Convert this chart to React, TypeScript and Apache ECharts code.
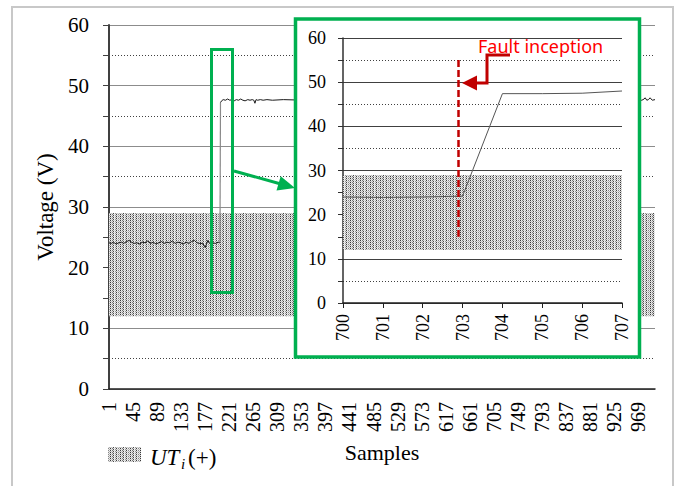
import React, { useEffect, useRef } from "react";
import * as echarts from "echarts";

// ---------- data ----------
const sampleCount = 1000;
const sampleLabels = Array.from({ length: sampleCount }, (_, i) => String(i + 1));

const lowSamples = [1, 5, 9, 14, 19, 24, 28, 33, 38, 42, 47, 52, 57, 62, 67, 72, 77, 82, 87, 92, 97, 102, 107, 112, 117, 122, 127, 132, 137, 142, 147, 152, 157, 162, 167, 172, 175, 177, 179, 182, 185, 190, 196, 201, 204];
const lowVolts = [24.1, 24.0, 24.2, 23.9, 24.1, 24.2, 24.0, 24.3, 24.5, 24.2, 24.0, 24.1, 23.9, 24.2, 24.1, 24.4, 24.0, 24.2, 23.9, 24.1, 24.3, 24.0, 24.2, 24.1, 24.4, 24.0, 24.2, 24.1, 23.9, 24.2, 24.0, 24.3, 24.5, 24.1, 24.0, 24.0, 23.7, 23.3, 23.8, 24.5, 24.0, 24.1, 24.0, 24.2, 24.1];

const highSamples = [205, 207, 210, 214, 218, 222, 226, 230, 234, 238, 242, 246, 250, 255, 259, 263, 266, 268, 270, 273, 278, 283, 290, 300, 320, 360, 420, 500, 600, 700, 705, 800, 900, 960, 976, 980, 982, 985, 988, 991, 995, 1000];
const highVolts = [47.2, 47.5, 47.7, 47.6, 47.8, 47.6, 47.7, 47.5, 47.7, 47.6, 47.8, 47.6, 47.5, 47.7, 47.6, 47.7, 47.6, 47.1, 47.7, 47.6, 47.7, 47.6, 47.7, 47.6, 47.7, 47.6, 47.7, 47.6, 47.5, 47.6, 47.7, 47.6, 47.7, 47.6, 47.6, 47.8, 48.0, 47.6, 47.7, 48.0, 47.6, 47.7];

const insetSamples = [700, 701, 702, 703, 704, 705, 706, 707];
const insetVolts = [24.0, 23.9, 24.0, 24.2, 47.4, 47.4, 47.5, 48.0];

const bandLow = 12;
const bandHigh = 29;

const faultSample = 702.88;
const faultTop = 55;
const faultBottom = 15;

const yMin = 0;
const yMax = 60;
const yStep = 10;

const serif = "'Liberation Serif', 'Times New Roman', serif";

function makePattern(): HTMLCanvasElement {
  const c = document.createElement("canvas");
  const w = 10;
  const h = 4;
  c.width = w;
  c.height = h;
  const ctx = c.getContext("2d")!;
  const cols = [0x38, 0xc0, 0x78, 0x48, 0xd8, 0x98, 0x40, 0xc8, 0x88, 0xb0];
  for (let x = 0; x < w; x++) {
    for (let y = 0; y < h; y++) {
      let v = cols[x];
      if ((x + y) % 2 === 1) v = Math.round(255 - (255 - v) * 0.2);
      ctx.fillStyle = `rgb(${v},${v},${v})`;
      ctx.fillRect(x, y, 1, 1);
    }
  }
  return c;
}

export default function App() {
  const ref = useRef<HTMLDivElement>(null);
  useEffect(() => {
    if (!ref.current) return;
    const chart = echarts.init(ref.current, null, { renderer: "svg" });
    const pat = makePattern();
    const patternColor: any = { image: pat, repeat: "repeat" };

    const lowData = lowSamples.map((s, i) => [s - 1, lowVolts[i]]);
    const highData = highSamples.map((s, i) => [s - 1, highVolts[i]]);
    const jumpData = [lowData[lowData.length - 1], highData[0]];
    const insetData = insetSamples.map((s, i) => [s, insetVolts[i]]);

    const green = "#00B050";
    const darkRed = "#C00000";

    chart.setOption({
      animation: false,
      grid: [
        { left: 109, top: 25, width: 546, height: 364 },
        { left: 343, top: 38, width: 279, height: 265 },
      ],
      xAxis: [
        {
          gridIndex: 0,
          type: "category",
          data: sampleLabels,
          boundaryGap: false,
          axisLine: { lineStyle: { color: "#202020", width: 1.5 } },
          axisTick: { show: false },
          splitLine: { show: false },
          axisLabel: {
            interval: 43,
            rotate: 90,
            margin: 13,
            fontSize: 20,
            fontFamily: serif,
            color: "#000",
          },
          name: "Samples",
          nameLocation: "middle",
          nameGap: 52,
          nameTextStyle: { fontSize: 22, fontFamily: serif, color: "#000" },
        },
        {
          gridIndex: 1,
          type: "value",
          min: insetSamples[0],
          max: insetSamples[insetSamples.length - 1],
          interval: 1,
          z: 20,
          axisLine: { lineStyle: { color: "#202020", width: 1.5 } },
          axisTick: { show: true, length: 5, lineStyle: { color: "#202020" } },
          splitLine: { show: false },
          axisLabel: {
            rotate: 90,
            margin: 11,
            fontSize: 18,
            fontFamily: serif,
            color: "#000",
          },
        },
      ],
      yAxis: [
        {
          gridIndex: 0,
          type: "value",
          min: yMin,
          max: yMax,
          interval: yStep,
          axisLine: { show: true, lineStyle: { color: "#404040", width: 2 } },
          axisTick: { show: true, length: 6, lineStyle: { color: "#404040" } },
          minorTick: { show: true, splitNumber: 2, length: 6, lineStyle: { color: "#404040" } },
          splitLine: { show: true, lineStyle: { color: "#8c8c8c", width: 1 } },
          minorSplitLine: { show: true, lineStyle: { color: "#404040", type: [1, 2], width: 1 } },
          axisLabel: { margin: 20, fontSize: 21, fontFamily: serif, color: "#000" },
          name: "Voltage (V)",
          nameLocation: "middle",
          nameGap: 50,
          nameTextStyle: { fontSize: 23, fontFamily: serif, color: "#000" },
        },
        {
          gridIndex: 1,
          type: "value",
          min: yMin,
          max: yMax,
          interval: yStep,
          z: 20,
          axisLine: { show: true, lineStyle: { color: "#303030", width: 1.5 } },
          axisTick: { show: true, length: 5, lineStyle: { color: "#303030" } },
          minorTick: { show: true, splitNumber: 2, length: 5, lineStyle: { color: "#303030" } },
          splitLine: { show: true, lineStyle: { color: "#404040", width: 1 } },
          minorSplitLine: { show: true, lineStyle: { color: "#404040", type: [1, 2], width: 1 } },
          axisLabel: { margin: 17, fontSize: 18, fontFamily: serif, color: "#000" },
        },
      ],
      series: [
        {
          type: "line",
          xAxisIndex: 0,
          yAxisIndex: 0,
          data: lowData,
          symbol: "none",
          lineStyle: { width: 0, opacity: 0 },
          z: 1,
          silent: true,
          markArea: {
            silent: true,
            z: 1,
            itemStyle: { color: patternColor },
            data: [[{ yAxis: bandLow }, { yAxis: bandHigh }]],
          },
        },
        {
          type: "line",
          xAxisIndex: 0,
          yAxisIndex: 0,
          data: lowData,
          symbol: "none",
          lineStyle: { color: "#1a1a1a", width: 1 },
          z: 3,
        },
        {
          type: "line",
          xAxisIndex: 0,
          yAxisIndex: 0,
          data: jumpData,
          symbol: "none",
          lineStyle: { color: "#8a8a8a", width: 1.2 },
          z: 3,
        },
        {
          type: "line",
          xAxisIndex: 0,
          yAxisIndex: 0,
          data: highData,
          symbol: "none",
          lineStyle: { color: "#1a1a1a", width: 1 },
          z: 3,
        },
        {
          type: "line",
          xAxisIndex: 1,
          yAxisIndex: 1,
          data: insetData,
          symbol: "none",
          lineStyle: { width: 0, opacity: 0 },
          z: 22,
          silent: true,
          markArea: {
            silent: true,
            z: 22,
            itemStyle: { color: patternColor },
            data: [[{ yAxis: bandLow }, { yAxis: bandHigh }]],
          },
        },
        {
          type: "line",
          xAxisIndex: 1,
          yAxisIndex: 1,
          data: insetData,
          symbol: "none",
          lineStyle: { color: "#555", width: 1 },
          z: 23,
          markLine: {
            silent: true,
            z: 30,
            symbol: "none",
            label: { show: false },
            lineStyle: { color: darkRed, width: 2.5, type: [7, 3] },
            data: [[{ coord: [faultSample, faultTop] }, { coord: [faultSample, faultBottom] }]],
          },
        },
      ],
      graphic: {
        elements: [
          {
            type: "rect",
            z: 0,
            silent: true,
            shape: { x: 12, y: 7, width: 661, height: 495 },
            style: { fill: "none", stroke: "#c8c8c8", lineWidth: 2 },
          },
          {
            type: "rect",
            z: 5,
            silent: true,
            shape: { x: 211.5, y: 49.5, width: 21, height: 243 },
            style: { fill: "none", stroke: green, lineWidth: 3 },
          },
          {
            type: "line",
            z: 5,
            silent: true,
            shape: { x1: 234, y1: 171, x2: 280, y2: 183.8 },
            style: { stroke: green, lineWidth: 3 },
          },
          {
            type: "polygon",
            z: 5,
            silent: true,
            shape: { points: [[295, 188], [276.5, 190.5], [280.7, 176.3]] },
            style: { fill: green },
          },
          {
            type: "rect",
            z: 10,
            silent: true,
            shape: { x: 295.5, y: 19, width: 344, height: 338 },
            style: { fill: "#fff", stroke: green, lineWidth: 3.5 },
          },
          {
            type: "polyline",
            z: 30,
            silent: true,
            shape: { points: [[510, 55], [487, 55], [487, 83], [474, 83]] },
            style: { stroke: darkRed, lineWidth: 3, fill: "none" },
          },
          {
            type: "polygon",
            z: 30,
            silent: true,
            shape: { points: [[462, 83], [477, 75.5], [477, 90.5]] },
            style: { fill: darkRed },
          },
          {
            type: "text",
            z: 30,
            silent: true,
            x: 478,
            y: 46,
            style: {
              text: "Fault inception",
              fill: "#FF0000",
              font: "18px 'Noto Sans', sans-serif",
              verticalAlign: "middle",
              align: "left",
            },
          },
          {
            type: "rect",
            z: 5,
            silent: true,
            shape: { x: 108, y: 447, width: 33, height: 15 },
            style: { fill: patternColor },
          },
          {
            type: "text",
            z: 5,
            silent: true,
            x: 150,
            y: 457,
            style: {
              text: "UT",
              fill: "#000",
              font: `italic 23px ${serif}`,
              verticalAlign: "middle",
              align: "left",
            },
          },
          {
            type: "text",
            z: 5,
            silent: true,
            x: 181,
            y: 464,
            style: {
              text: "i",
              fill: "#000",
              font: `italic 15px ${serif}`,
              verticalAlign: "middle",
              align: "left",
            },
          },
          {
            type: "text",
            z: 5,
            silent: true,
            x: 188,
            y: 457,
            style: {
              text: "(+)",
              fill: "#000",
              font: `23px ${serif}`,
              verticalAlign: "middle",
              align: "left",
            },
          },
        ],
      },
    });
    return () => chart.dispose();
  }, []);
  return (
    <div
      ref={ref}
      style={{ position: "absolute", left: 0, top: 0, width: 677, height: 486, background: "#fff" }}
    />
  );
}
